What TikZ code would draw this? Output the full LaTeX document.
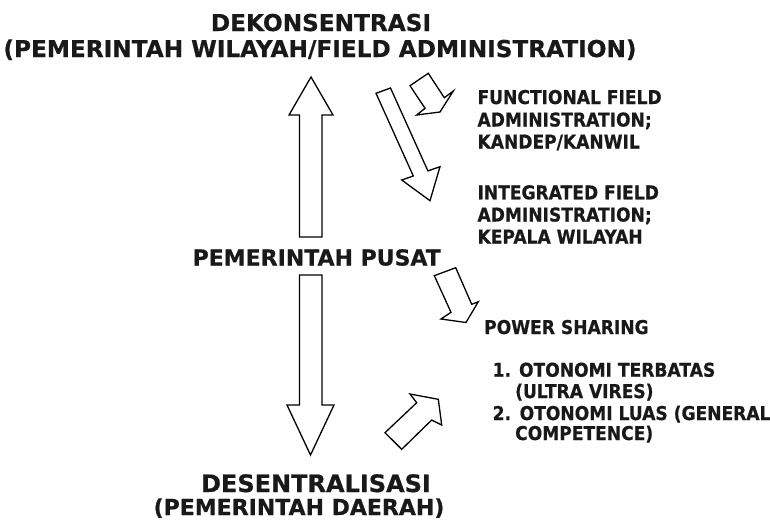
\documentclass[tikz,border=0pt]{standalone}
\usepackage{fontspec}
\setmainfont{DejaVu Sans}[BoldFeatures={FakeBold=0.6}]
\newfontfamily\rfont{DejaVu Sans}[FakeStretch=0.9, BoldFeatures={FakeBold=0.6}]
\begin{document}
\begin{tikzpicture}[x=1pt,y=-1pt,
  blk/.style={draw=black, line width=1.3pt, fill=white, line join=miter},
  big/.style={font=\fontsize{22}{26}\selectfont\bfseries, text=black!90, inner sep=0pt, anchor=base},
  rtext/.style={font=\rfont\fontsize{19}{22}\selectfont\bfseries, text=black!90, inner sep=0pt, anchor=base west}]
\fill[white] (0,0) rectangle (770,528);
\useasboundingbox (0,0) rectangle (770,528);

% titles
\node[big, font=\fontsize{23.2}{26}\selectfont\bfseries] (dek) at (321,31) {DEKONSENTRASI};
\node[big, font=\fontsize{23.2}{26}\selectfont\bfseries] (dek2) at (320,57) {(PEMERINTAH WILAYAH/FIELD ADMINISTRATION)};
\node[big] (pusat) at (316.7,265.5) {PEMERINTAH PUSAT};
\node[big, font=\fontsize{24}{28}\selectfont\bfseries] (des) at (316,492) {DESENTRALISASI};
\node[big, font=\fontsize{22}{26}\selectfont\bfseries] (des2) at (299,515) {(PEMERINTAH DAERAH)};

% right texts
\node[rtext] (f1) at (477.3,104) {FUNCTIONAL FIELD};
\node[rtext] (f2) at (477.3,126.5) {ADMINISTRATION;};
\node[rtext] (f3) at (477.3,148.5) {KANDEP/KANWIL};
\node[rtext] (i1) at (477.3,199.3) {INTEGRATED FIELD};
\node[rtext] (i2) at (477.3,221.5) {ADMINISTRATION;};
\node[rtext] (i3) at (477.3,243.5) {KEPALA WILAYAH};
\node[rtext] (ps) at (484,334) {POWER SHARING};
\node[rtext] (l1) at (492.5,376.7) {1. OTONOMI TERBATAS};
\node[rtext] (l2) at (515,398) {(ULTRA VIRES)};
\node[rtext] (l3) at (492.5,420) {2.\hspace{0.45em}OTONOMI LUAS (GENERAL};
\node[rtext] (l4) at (515,440) {COMPETENCE)};

% vertical block arrows
\draw[blk] (299.5,237) -- (299.5,115) -- (289,115) -- (311,77) -- (333,115) -- (322,115) -- (322,237) -- cycle;
\draw[blk] (299.5,275) -- (299.5,405) -- (287,405) -- (310.5,455) -- (334,405) -- (322,405) -- (322,275) -- cycle;

% diagonal block arrows
\draw[blk] (376,93.3) -- (413.3,176) -- (401.7,180) -- (430,200.7) -- (440,166.7) -- (427.9,170.9) -- (390.5,88) -- cycle;
\draw[blk] (410,85.7) -- (425,108.3) -- (416.7,115) -- (440,112) -- (453.3,91) -- (444.3,97.7) -- (428.3,73.3) -- cycle;
\draw[blk] (434.3,275.7) -- (451,312.3) -- (441,319) -- (466,322.5) -- (478.3,301.7) -- (471.7,304.3) -- (455.7,267.7) -- cycle;
\draw[blk] (385,432.7) -- (416.7,402.7) -- (410,394) -- (438.3,399.3) -- (441.7,425) -- (431.7,420) -- (401.7,449.3) -- cycle;
\end{tikzpicture}
\end{document}
